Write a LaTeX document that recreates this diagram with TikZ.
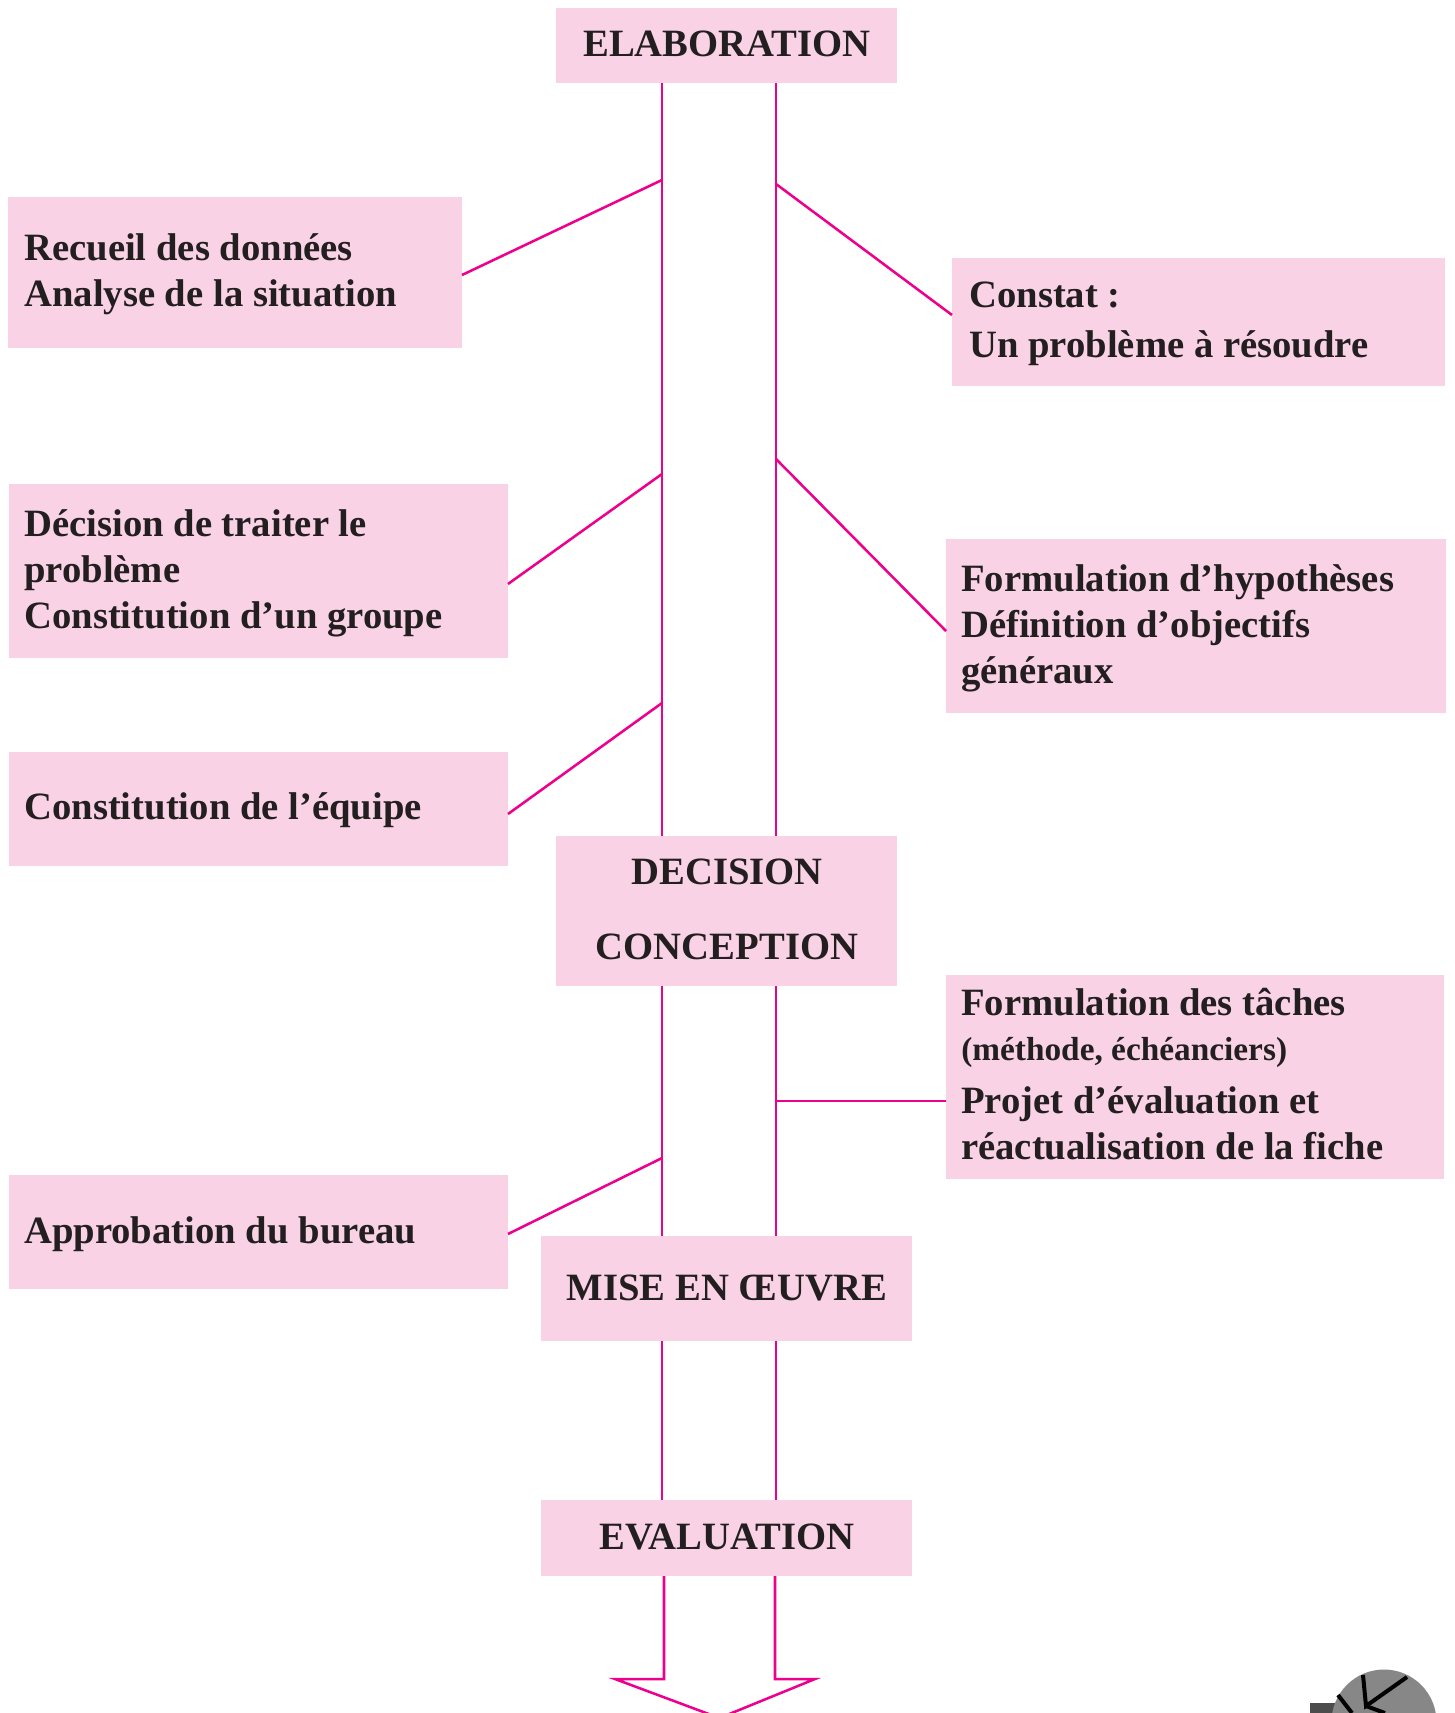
\documentclass[tikz,border=0pt]{standalone}
\usepackage{fontspec}
\setmainfont{Liberation Serif}
\definecolor{boxpink}{HTML}{F9D3E5}
\definecolor{railpink}{HTML}{EC008C}
\definecolor{inkdark}{HTML}{231F20}
\newcommand\mainsize{\fontsize{29}{34}\bfseries\selectfont}
\newcommand\smallsize{\fontsize{25}{30}\bfseries\selectfont}
\newcommand\px[1]{#1*0.75pt}
\tikzset{
  x=0.75pt,y=-0.75pt,
  pinkbox/.style={fill=boxpink,draw=none,inner sep=0pt,minimum width=#1,anchor=north west},
  boxtext/.style={text=inkdark,inner sep=0pt,anchor=base west,font=\mainsize},
  headtext/.style={text=inkdark,inner sep=0pt,anchor=base,font=\mainsize},
  rail/.style={draw=railpink,line width=1.9pt,line join=miter},
}
\begin{document}
\begin{tikzpicture}
\clip (0,0) rectangle (1455,1713);
\path[use as bounding box] (0,0) rectangle (1455,1713);
% boxes
\foreach \nm/\xa/\ya/\xb/\yb in {
  elab/556/8/897/83, recueil/8/197/462/348, constat/952/258/1445/386,
  decid/9/484/508/658, hypo/946/539/1446/713, equipe/9/752/508/866,
  decis/556/836/897/986, taches/946/975/1444/1179, bureau/9/1175/508/1289,
  mise/541/1236/912/1341, evalu/541/1500/912/1576}{
  \fill[boxpink] (\xa,\ya) rectangle (\xb,\yb);
  \coordinate (\nm-nw) at (\xa,\ya);
  \coordinate (\nm-se) at (\xb,\yb);
}
% rails
\coordinate (L) at (662,0);
\coordinate (R) at (776,0);
\coordinate (LA) at (664,0);
\coordinate (RA) at (775,0);
\draw[rail] (L |- elab-se) -- (L |- decis-nw);
\draw[rail] (R |- elab-se) -- (R |- decis-nw);
\draw[rail] (L |- decis-se) -- (L |- mise-nw);
\draw[rail] (R |- decis-se) -- (R |- mise-nw);
\draw[rail] (L |- mise-se) -- (L |- evalu-nw);
\draw[rail] (R |- mise-se) -- (R |- evalu-nw);
\coordinate (wingL) at (615,1679);
\coordinate (wingR) at (815,1679);
\coordinate (tip) at (719.5,1718);
\draw[rail] (LA |- evalu-se) -- (LA |- wingL) -- (wingL) -- (tip) -- (wingR) -- (RA |- wingR) -- (RA |- evalu-se);
% branches
\draw[rail] (662,180) -- (462,275);
\draw[rail] (662,474) -- (508,584);
\draw[rail] (662,703) -- (508,814);
\draw[rail] (662,1158) -- (508,1234);
\draw[rail] (776,184) -- (952,315);
\draw[rail] (776,459) -- (946,631);
\draw[rail] (776,1101) -- (946,1101);
% texts
\node[headtext] (t1) at (727,56) {ELABORATION};
\node[boxtext] (t2) at (24,260) {\vtop{\baselineskip=34.5pt\hbox{Recueil des données}\hbox{Analyse de la situation}}};
\node[boxtext] (t3) at (969,307) {\vtop{\baselineskip=38pt\hbox{Constat :}\hbox{Un problème à résoudre}}};
\node[boxtext] (t4) at (24,536) {\vtop{\baselineskip=34.5pt\hbox{Décision de traiter le}\hbox{problème}\hbox{Constitution d’un groupe}}};
\node[boxtext] (t5) at (961,591) {\vtop{\baselineskip=34.5pt\hbox{Formulation d’hypothèses}\hbox{Définition d’objectifs}\hbox{généraux}}};
\node[boxtext] (t6) at (24,819) {Constitution de l’équipe};
\node[headtext] (t7) at (727,884) {DECISION};
\node[headtext] (t8) at (727,959) {CONCEPTION};
\node[boxtext] (t9) at (961,1015) {\vtop{\baselineskip=33.75pt\hbox{Formulation des tâches}\hbox{\smallsize (méthode, échéanciers)}\baselineskip=39.75pt\hbox{Projet d’évaluation et}\baselineskip=34.5pt\hbox{réactualisation de la fiche}}};
\node[boxtext] (t10) at (24,1243) {Approbation du bureau};
\node[headtext] (t11) at (727,1300) {MISE EN ŒUVRE};
\node[headtext] (t12) at (727,1549) {EVALUATION};
% ball fragment
\fill[black!70] (1310,1703) rectangle (1336,1713);
\fill[black!47] (1384,1722) circle (52.5);
\draw[black,line width=3pt] (1363,1675) -- (1366,1706) -- (1407,1677);
\draw[black,line width=3pt] (1338,1695) -- (1352,1713);
\draw[black,line width=3pt] (1366,1706) -- (1385,1713);
\end{tikzpicture}
\end{document}
